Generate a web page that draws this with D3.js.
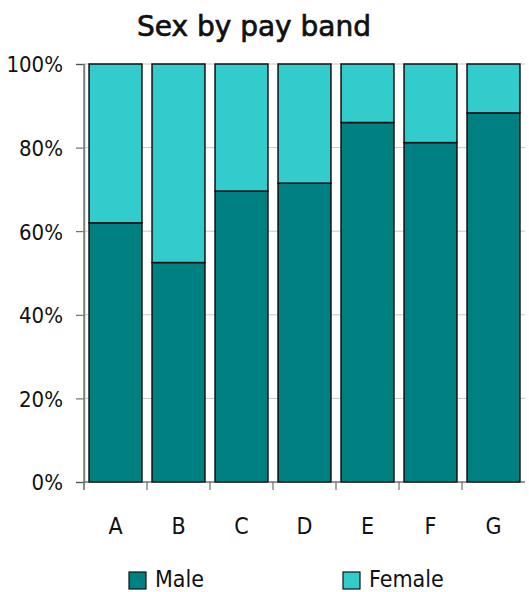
<!DOCTYPE html>
<html><head><meta charset="utf-8">
<script src="https://cdn.jsdelivr.net/npm/d3@7"></script>
<style>body{margin:0;background:#fff}svg{display:block}text{font-family:"DejaVu Sans Condensed","DejaVu Sans",sans-serif}</style>
</head><body><svg id="c" width="529" height="592"></svg>
<script>
const categories = ["A","B","C","D","E","F","G"];
const maleShare = [0.62,0.525,0.696,0.715,0.86,0.812,0.883];
const femaleShare = maleShare.map(v => 1 - v);
const seriesNames = ["Male","Female"];
const seriesColors = ["#008080","#33CCCC"];
const yTicks = [0,0.2,0.4,0.6,0.8,1];

const svg = d3.select("#c");
const m = {l:84, r:525, t:64, b:482};
const x = d3.scaleBand().domain(categories).range([m.l, m.r]).paddingInner(0.16).paddingOuter(0.08);
const y = d3.scaleLinear().domain([0,1]).range([m.b, m.t]);

// gridlines
svg.append("g").selectAll("line").data(yTicks.slice(1)).join("line")
  .attr("x1", m.l).attr("x2", m.r).attr("y1", d=>y(d)).attr("y2", d=>y(d))
  .attr("stroke","#c8c8c8").attr("stroke-width",1);

const rows = categories.map((c,i)=>({c, male:maleShare[i], female:femaleShare[i]}));
const stack = d3.stack().keys(["male","female"])(rows);
svg.append("g").selectAll("g").data(stack).join("g")
  .attr("fill",(d,i)=>seriesColors[i])
  .selectAll("rect").data(d=>d).join("rect")
  .attr("x", d=>x(d.data.c)).attr("width", x.bandwidth())
  .attr("y", d=>y(d[1])).attr("height", d=>y(d[0])-y(d[1]))
  .attr("stroke","#111").attr("stroke-width",1.5);

// y axis
const ya = svg.append("g").attr("transform",`translate(${m.l},0)`)
  .call(d3.axisLeft(y).tickValues(yTicks).tickFormat(d3.format(".0%")).tickSize(8).tickPadding(13));
ya.select(".domain").attr("stroke","#808080").attr("stroke-width",1.5);
ya.selectAll(".tick line").attr("stroke","#555");
ya.selectAll("text").attr("font-size",22).attr("fill","#111").attr("dy","0.36em");

// x axis baseline and category ticks
svg.append("line").attr("x1",m.l).attr("x2",m.r).attr("y1",m.b).attr("y2",m.b).attr("stroke","#333").attr("stroke-width",1.2);
const bounds = d3.range(categories.length).map(i => m.l + i*(m.r-m.l)/categories.length);
svg.append("g").selectAll("line").data(bounds).join("line")
  .attr("x1",d=>d).attr("x2",d=>d).attr("y1",m.b).attr("y2",m.b+8).attr("stroke","#555");
svg.append("line").attr("x1",m.l).attr("x2",m.l).attr("y1",m.t).attr("y2",m.b+8).attr("stroke","#808080").attr("stroke-width",1.5);
svg.append("g").selectAll("text").data(categories).join("text")
  .attr("x",d=>x(d)+x.bandwidth()/2).attr("y",534).attr("text-anchor","middle")
  .attr("font-size",23).attr("fill","#111").text(d=>d);

// title
svg.append("text").attr("x",254).attr("y",36).attr("text-anchor","middle")
  .style("font-family",'"DejaVu Sans",sans-serif')
  .attr("font-size",28).attr("fill","#111").attr("stroke","#111").attr("stroke-width",0.7)
  .text("Sex by pay band");

// legend
const legX = [129, 343];
const lg = svg.append("g").selectAll("g").data(seriesNames).join("g")
  .attr("transform",(d,i)=>`translate(${legX[i]},572)`);
lg.append("rect").attr("width",17).attr("height",17).attr("fill",(d,i)=>seriesColors[i]).attr("stroke","#111").attr("stroke-width",1.2);
lg.append("text").attr("x",26).attr("y",15).attr("font-size",23).attr("fill","#111").text(d=>d);
</script></body></html>
